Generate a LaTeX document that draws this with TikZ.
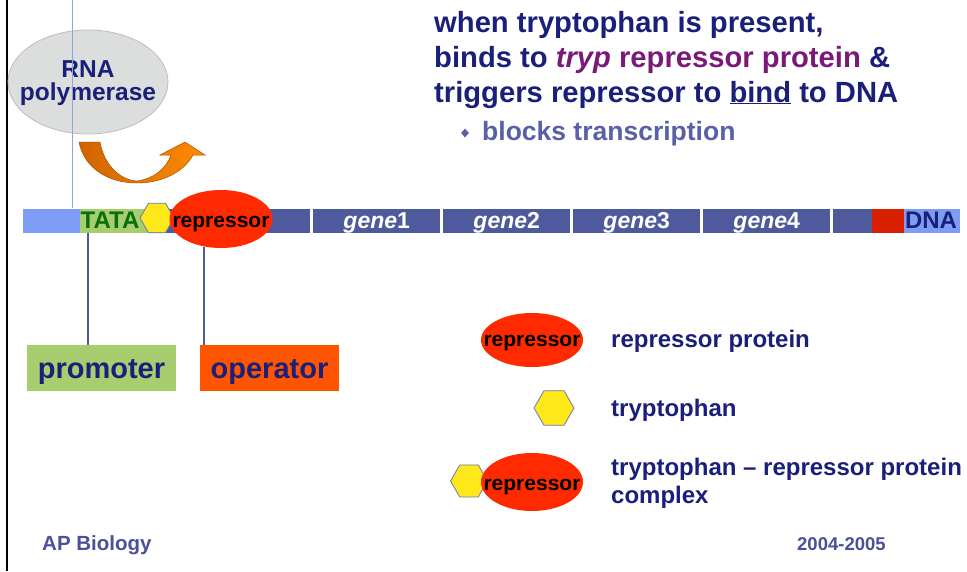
\documentclass[tikz,border=0pt]{standalone}
\usepackage{fontspec}
\setmainfont{Liberation Sans}
\usetikzlibrary{shapes.geometric}
\definecolor{navy}{HTML}{1A1F7A}
\definecolor{purp}{HTML}{7A1A78}
\definecolor{bullet}{HTML}{5A60A8}
\definecolor{foot}{HTML}{4A509A}
\definecolor{dnablue}{HTML}{4E5A9C}
\definecolor{lightblue}{HTML}{7F9CF5}
\definecolor{tatagreen}{HTML}{A6CD6E}
\definecolor{tatatext}{HTML}{0A6E0A}
\definecolor{dnared}{HTML}{D82000}
\definecolor{repred}{HTML}{FF2A00}
\definecolor{oporange}{HTML}{FF5500}
\definecolor{hexyellow}{HTML}{FFE81A}
\definecolor{hexborder}{HTML}{6C78B4}
\definecolor{polgray}{HTML}{DCDDDD}
\definecolor{polborder}{HTML}{BDBDBD}
\definecolor{thinblue}{HTML}{8EA4E4}
\definecolor{arrdark}{HTML}{D06400}
\definecolor{arrlight}{HTML}{FF8A00}
\newcommand\setfs[1]{\fontsize{#1}{#1}\selectfont}
\begin{document}
\begin{tikzpicture}[x=1pt,y=-1pt,
  txt/.style={inner sep=0,font=\bfseries},
  seg/.style={inner sep=0,minimum height=24pt,anchor=west},
  hexa/.style={regular polygon,regular polygon sides=6,inner sep=0,fill=hexyellow,draw=hexborder,line width=0.8pt},
  repell/.style={ellipse,inner sep=0,fill=repred,draw=none},
  reptxt/.style={txt,anchor=base,font=\bfseries\setfs{21}},
  gtxt/.style={txt,anchor=base,text=white,font=\bfseries\setfs{23}},
  legtxt/.style={txt,anchor=base west,text=navy,font=\bfseries\setfs{24}},
  boxtxt/.style={txt,text=navy,font=\bfseries\setfs{29}},
  link/.style={draw=dnablue,line width=1.2pt}]
\useasboundingbox (0,0) rectangle (967,571);
\fill[white] (0,0) rectangle (967,571);
% left border
\coordinate (bt) at (7,0);
\coordinate (bb) at (7,571);
\draw[black,line width=1.5pt] (bt) -- (bb);

% RNA polymerase
\node[ellipse,fill=polgray,draw=polborder,line width=0.8pt,minimum width=160pt,minimum height=104pt,inner sep=0] (pol) at (88,82) {};
\node[txt,anchor=base,text=navy,font=\bfseries\setfs{24.5}] (polA) at (88,77) {RNA};
\node[txt,anchor=base,text=navy,font=\bfseries\setfs{24.5}] (polB) at (88,100) {polymerase};

% orange arrow
\path[left color=arrdark,right color=arrlight,draw=arrdark!80!black,line width=0.5pt]
  (79,142) -- (100,142) .. controls (104,165) and (120,180) .. (137,181)
  .. controls (153,179) and (166,169) .. (171,155) -- (160,155) -- (185,142) -- (205,155) -- (193,155)
  .. controls (184,172) and (162,183) .. (137,183)
  .. controls (108,183) and (84,168) .. (79,142) -- cycle;

% DNA bar
\node[seg,fill=lightblue,minimum width=57pt] (lb) at (23,220.5) {};
\node[seg,fill=tatagreen,minimum width=70pt] (tata) at (80,220.5) {};
\node[txt,anchor=base,text=tatatext,font=\bfseries\setfs{24}] (tatat) at (110,228) {TATA};
\node[seg,fill=dnablue,minimum width=160pt] (b0) at (150,220.5) {};
\node[seg,fill=dnablue,minimum width=127pt] (g1) at (313,220.5) {};
\node[seg,fill=dnablue,minimum width=127pt] (g2) at (443,220.5) {};
\node[seg,fill=dnablue,minimum width=127pt] (g3) at (573,220.5) {};
\node[seg,fill=dnablue,minimum width=127pt] (g4) at (703,220.5) {};
\node[seg,fill=dnablue,minimum width=39pt] (b5) at (833,220.5) {};
\node[seg,fill=dnared,minimum width=32pt] (rd) at (872,220.5) {};
\node[seg,fill=lightblue,minimum width=56pt] (dn) at (904,220.5) {};
\node[gtxt] at (g1.center |- 0,228) {\textit{gene}1};
\node[gtxt] at (g2.center |- 0,228) {\textit{gene}2};
\node[gtxt] at (g3.center |- 0,228) {\textit{gene}3};
\node[gtxt] at (g4.center |- 0,228) {\textit{gene}4};
\node[txt,anchor=base,text=navy,font=\bfseries\setfs{24}] (dnat) at (931,228) {DNA};

% bound complex on DNA
\node[hexa,minimum size=34pt] (hx) at (157,218) {};
\node[repell,minimum width=103pt,minimum height=58pt] (rep) at (221,219) {};
\node[reptxt] (rept) at (221,227) {repressor};

% thin blue line
\coordinate (tb) at (72,0);
\coordinate (tbe) at (72,208);
\draw[thinblue,line width=0.8pt] (tb) -- (tbe);

% promoter / operator
\node[fill=tatagreen,minimum width=149pt,minimum height=46pt,inner sep=0] (prom) at (101.5,368) {};
\node[boxtxt,anchor=base] at (101.5,378) {promoter};
\node[fill=oporange,minimum width=139pt,minimum height=46pt,inner sep=0] (oper) at (269.5,368) {};
\node[boxtxt,anchor=base] at (269.5,378) {operator};
\coordinate (pl) at (88,232.5);
\coordinate (ol) at (204,247);
\draw[link] (pl) -- (pl |- prom.north);
\draw[link] (ol) -- (ol |- oper.north);

% title
\node[txt,anchor=base west,text=navy,font=\bfseries\setfs{29.2}] (t1) at (434,32) {when tryptophan is present,};
\node[txt,anchor=base west,text=navy,font=\bfseries\setfs{29.2}] (t2) at (434,67) {binds to \textcolor{purp}{\textit{tryp} repressor protein} \&};
\node[txt,anchor=base west,text=navy,font=\bfseries\setfs{29.2}] (t3) at (434,102) {triggers repressor to \underline{bind} to DNA};
\node[diamond,fill=bullet,inner sep=0,minimum width=8pt,minimum height=9pt] (dia) at (465,133) {};
\node[txt,anchor=base west,text=bullet,font=\bfseries\setfs{26.5}] (t4) at (482,140) {blocks transcription};

% legend
\node[repell,minimum width=102pt,minimum height=54pt] (lrep) at (532,340) {};
\node[reptxt] at (532,346) {repressor};
\node[legtxt] (l1) at (611,347) {repressor protein};
\node[hexa,minimum size=40pt] (lhex) at (554,408) {};
\node[legtxt] (l2) at (611,416) {tryptophan};
\node[hexa,minimum size=37pt] (chex) at (469,481) {};
\node[repell,minimum width=102pt,minimum height=58pt] (crep) at (532,482) {};
\node[reptxt] at (532,490) {repressor};
\node[legtxt] (l3) at (611,475) {tryptophan – repressor protein};
\node[legtxt] (l4) at (611,503) {complex};

% footer
\node[txt,anchor=base west,text=foot,font=\bfseries\setfs{20.5}] (ap) at (42,550) {AP Biology};
\node[txt,anchor=base west,text=foot,font=\bfseries\setfs{18.5}] (yr) at (797,550) {2004-2005};
\end{tikzpicture}
\end{document}
